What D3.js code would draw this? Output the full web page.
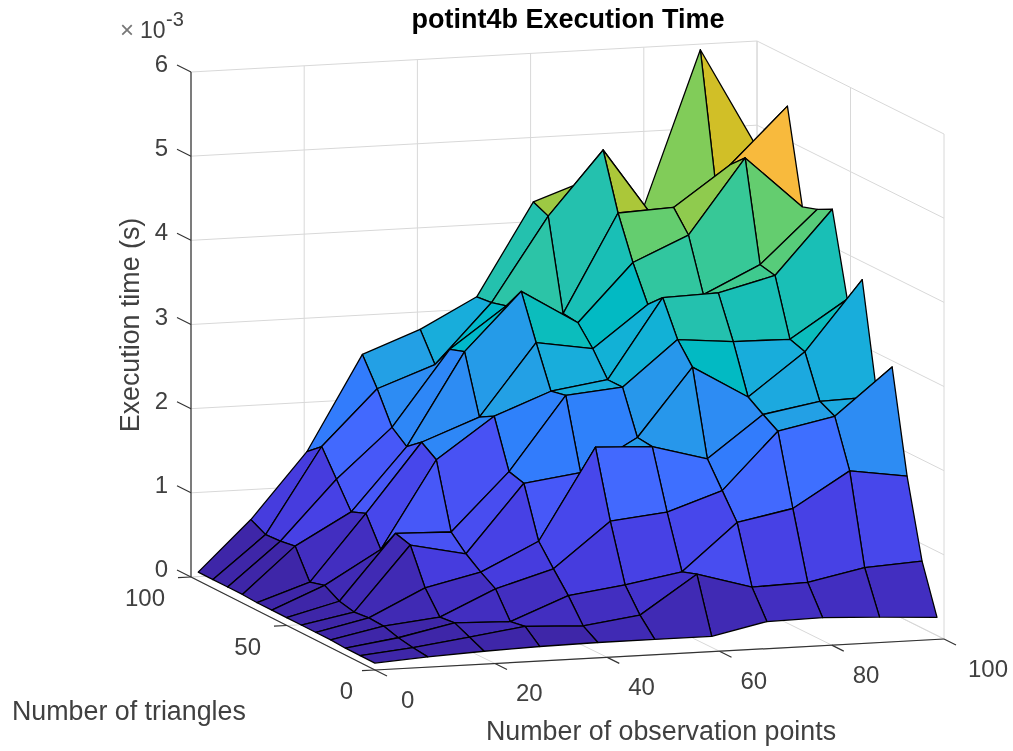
<!DOCTYPE html>
<html>
<head>
<meta charset="utf-8">
<script src="https://cdn.jsdelivr.net/npm/d3@7"></script>
<style>
  html, body { margin: 0; padding: 0; background: #fff; }
  svg { filter: blur(0.4px); }
  text { font-family: "Liberation Sans", Arial, sans-serif; fill: #404040; }
</style>
</head>
<body>
<div id="canvas"></div>
<script>
const xVals = [0.3, 9.6, 19.5, 29.3, 39.5, 49.5, 59.5, 69.2, 79, 89, 99.1];
const yVals = [1, 9, 17, 25, 33, 41, 49, 57, 65, 73, 81, 89, 97];

// execution time in ms, one row per yVals entry
const timeRows = [
  [0.07, 0.11, 0.14, 0.16, 0.17, 0.17, 0.17, 0.31, 0.32, 0.29, 0.25],
  [0.07, 0.13, 0.22, 0.31, 0.28, 0.37, 0.82, 0.63, 0.65, 0.79, 0.83],
  [0.07, 0.16, 0.30, 0.28, 0.55, 0.64, 0.76, 1.31, 1.44, 1.85, 1.75],
  [0.08, 0.21, 0.28, 0.58, 0.78, 1.31, 1.38, 1.60, 2.27, 2.41, 2.96],
  [0.08, 0.22, 0.54, 0.69, 1.02, 2.10, 2.07, 1.89, 2.38, 2.50, 2.52],
  [0.08, 0.20, 0.96, 0.82, 1.62, 1.71, 2.09, 2.89, 2.50, 3.00, 3.82],
  [0.08, 0.24, 1.01, 0.99, 1.67, 2.54, 2.60, 3.13, 3.07, 3.06, 3.50],
  [0.08, 0.34, 0.73, 1.76, 2.24, 2.50, 2.60, 3.54, 3.56, 3.73, 4.48],
  [0.08, 0.29, 1.07, 1.88, 2.14, 2.99, 2.88, 3.37, 3.45, 3.77, 4.39],
  [0.09, 0.63, 1.00, 1.74, 2.83, 3.51, 3.10, 3.78, 4.07, 4.95, 4.33],
  [0.09, 0.60, 1.30, 1.88, 2.77, 3.25, 3.12, 4.28, 4.31, 4.78, 5.44],
  [0.09, 0.59, 1.60, 2.25, 2.50, 3.20, 4.19, 4.94, 4.02, 4.50, 4.54],
  [0.09, 0.68, 1.45, 2.57, 2.83, 3.18, 4.27, 4.50, 4.14, 5.97, 4.76]
];

const xTicks = [0, 20, 40, 60, 80, 100];
const yTicks = [0, 50, 100];
const zTicks = [0, 1, 2, 3, 4, 5, 6];

const parula = [
  [0.2422,0.1504,0.6603],[0.2504,0.1650,0.7076],[0.2578,0.1818,0.7511],[0.2647,0.1978,0.7952],
  [0.2706,0.2147,0.8364],[0.2751,0.2342,0.8710],[0.2783,0.2559,0.8991],[0.2803,0.2782,0.9221],
  [0.2813,0.3006,0.9414],[0.2810,0.3228,0.9579],[0.2795,0.3447,0.9717],[0.2760,0.3667,0.9829],
  [0.2699,0.3892,0.9906],[0.2602,0.4123,0.9952],[0.2440,0.4358,0.9988],[0.2206,0.4603,0.9973],
  [0.1963,0.4847,0.9892],[0.1834,0.5074,0.9798],[0.1786,0.5289,0.9682],[0.1764,0.5499,0.9520],
  [0.1687,0.5703,0.9359],[0.1540,0.5902,0.9218],[0.1460,0.6091,0.9079],[0.1380,0.6276,0.8973],
  [0.1248,0.6459,0.8883],[0.1113,0.6635,0.8763],[0.0952,0.6798,0.8598],[0.0689,0.6948,0.8394],
  [0.0297,0.7082,0.8163],[0.0036,0.7203,0.7917],[0.0067,0.7312,0.7660],[0.0433,0.7411,0.7394],
  [0.0964,0.7500,0.7120],[0.1408,0.7584,0.6842],[0.1717,0.7670,0.6554],[0.1938,0.7758,0.6251],
  [0.2161,0.7843,0.5923],[0.2470,0.7918,0.5567],[0.2906,0.7973,0.5188],[0.3406,0.8008,0.4789],
  [0.3909,0.8029,0.4354],[0.4456,0.8024,0.3909],[0.5044,0.7993,0.3480],[0.5616,0.7942,0.3045],
  [0.6174,0.7876,0.2612],[0.6720,0.7793,0.2227],[0.7242,0.7698,0.1910],[0.7738,0.7598,0.1646],
  [0.8203,0.7498,0.1535],[0.8634,0.7406,0.1596],[0.9035,0.7330,0.1774],[0.9393,0.7288,0.2100],
  [0.9728,0.7298,0.2394],[0.9956,0.7434,0.2371],[0.9970,0.7659,0.2199],[0.9952,0.7893,0.2028],
  [0.9892,0.8136,0.1885],[0.9786,0.8386,0.1766],[0.9676,0.8639,0.1643],[0.9610,0.8890,0.1537],
  [0.9597,0.9135,0.1423],[0.9628,0.9373,0.1265],[0.9691,0.9606,0.1064],[0.9769,0.9839,0.0805]
].map((c) => d3.rgb(c[0] * 255, c[1] * 255, c[2] * 255).formatRgb());

const width = 1013;
const height = 751;

const svg = d3.select("#canvas").append("svg")
  .attr("width", width)
  .attr("height", height)
  .style("display", "block");

const xScale = d3.scaleLinear().domain([0, 100]).range([0, 1]);
const yScale = d3.scaleLinear().domain([0, 100]).range([0, 1]);
const zScale = d3.scaleLinear().domain([0, 6]).range([0, 505]);

// floor corners of the 3d box on the page
const front = [375, 670], right = [944, 639], left = [191, 577], back = [757, 546];

const project = (x, y, z) => {
  const u = xScale(x), v = yScale(y);
  const px = (1 - u) * (1 - v) * front[0] + u * (1 - v) * right[0] + (1 - u) * v * left[0] + u * v * back[0];
  const py = (1 - u) * (1 - v) * front[1] + u * (1 - v) * right[1] + (1 - u) * v * left[1] + u * v * back[1];
  return [px, py - zScale(z)];
};

// the two front rulers are not quite even in the original, first tick sits closer to the corner
const xRuler = d3.scaleLinear().domain([0, 20, 100]).range([375, 495, 944]);
const yRuler = d3.scaleLinear().domain([0, 50, 100]).range([375, 287, 191]);
const xRulerY = d3.scaleLinear().domain([front[0], right[0]]).range([front[1], right[1]]);
const yRulerY = d3.scaleLinear().domain([front[0], left[0]]).range([front[1], left[1]]);
const xTickPos = (d) => [xRuler(d), xRulerY(xRuler(d))];
const yTickPos = (d) => [yRuler(d), yRulerY(yRuler(d))];

const allTimes = timeRows.flat();
const colorScale = d3.scaleQuantize().domain(d3.extent(allTimes)).range(parula);

const line3d = d3.line();

// grid on the two walls and the floor
const gridSegs = [];
zTicks.forEach((z) => {
  gridSegs.push([project(0, 100, z), project(100, 100, z)]);
  gridSegs.push([project(100, 100, z), project(100, 0, z)]);
});
xTicks.forEach((x) => {
  gridSegs.push([project(x, 100, 0), project(x, 100, 6)]);
  gridSegs.push([xTickPos(x), project(x, 100, 0)]);
});
yTicks.forEach((y) => {
  gridSegs.push([project(100, y, 0), project(100, y, 6)]);
  gridSegs.push([yTickPos(y), project(100, y, 0)]);
});

svg.append("g").selectAll("path")
  .data(gridSegs)
  .enter()
  .append("path")
  .attr("d", (d) => line3d(d))
  .attr("fill", "none")
  .attr("stroke", "#d8d8d8")
  .attr("stroke-width", 1);

// surface faces, far ones first; colour comes from the lowest index corner like surf
const faces = [];
d3.range(yVals.length - 2, -1, -1).forEach((j) => {
  d3.range(xVals.length - 2, -1, -1).forEach((i) => {
    faces.push({ i, j });
  });
});

svg.append("g").selectAll("path")
  .data(faces)
  .enter()
  .append("path")
  .attr("d", ({ i, j }) => {
    const pts = [[i, j], [i + 1, j], [i + 1, j + 1], [i, j + 1]]
      .map(([a, b]) => project(xVals[a], yVals[b], timeRows[b][a]));
    return line3d(pts) + "Z";
  })
  .attr("fill", ({ i, j }) => colorScale(timeRows[j][i]))
  .attr("stroke", "#000")
  .attr("stroke-width", 1.3)
  .attr("stroke-linejoin", "round");

// axis lines and ticks
const axisColor = "#333";
const axes = svg.append("g").attr("fill", "none").attr("stroke", axisColor).attr("stroke-width", 1.2);
axes.append("path").attr("d", line3d([project(0, 0, 0), project(100, 0, 0)]));
axes.append("path").attr("d", line3d([project(0, 0, 0), project(0, 100, 0)]));
axes.append("path").attr("d", line3d([project(0, 100, 0), project(0, 100, 6)]));

const addTicks = (ticks, at, dx, dy) => {
  axes.append("g").selectAll("path")
    .data(ticks)
    .enter()
    .append("path")
    .attr("d", (d) => {
      const p = at(d);
      return line3d([p, [p[0] + dx, p[1] + dy]]);
    });
};
addTicks(xTicks, xTickPos, 12, 6);
addTicks(yTicks, yTickPos, -13, 0.7);
addTicks(zTicks, (d) => project(0, 100, d), -14, -7);

const labels = svg.append("g").attr("font-size", 24);

labels.append("g").selectAll("text")
  .data(xTicks)
  .enter()
  .append("text")
  .attr("x", (d) => xTickPos(d)[0] + (d === 0 ? 26 : d === 100 ? 24 : 21))
  .attr("y", (d) => xTickPos(d)[1] + 38)
  .text((d) => d);

labels.append("g").selectAll("text")
  .data(yTicks)
  .enter()
  .append("text")
  .attr("text-anchor", "end")
  .attr("x", (d) => yTickPos(d)[0] + (d === 0 ? -22 : -26))
  .attr("y", (d) => yTickPos(d)[1] + 29)
  .text((d) => d);

labels.append("g").selectAll("text")
  .data(zTicks)
  .enter()
  .append("text")
  .attr("text-anchor", "end")
  .attr("x", 168)
  .attr("y", (d) => project(0, 100, d)[1])
  .text((d) => d);

svg.append("text")
  .attr("x", 568)
  .attr("y", 28)
  .attr("text-anchor", "middle")
  .attr("font-size", 27)
  .attr("font-weight", "bold")
  .style("fill", "#000")
  .text("potint4b Execution Time");

const expo = svg.append("g");
expo.append("text").attr("x", 120).attr("y", 38).attr("font-size", 24).style("fill", "#777").text("×");
expo.append("text").attr("x", 140).attr("y", 38).attr("font-size", 23).text("10");
expo.append("text").attr("x", 166).attr("y", 26).attr("font-size", 20).text("-3");

svg.append("text")
  .attr("transform", "translate(139,325) rotate(-90)")
  .attr("text-anchor", "middle")
  .attr("font-size", 26.8)
  .text("Execution time (s)");

svg.append("text")
  .attr("x", 12)
  .attr("y", 720)
  .attr("font-size", 26.8)
  .text("Number of triangles");

svg.append("text")
  .attr("x", 486)
  .attr("y", 740)
  .attr("font-size", 26.8)
  .text("Number of observation points");
</script>
</body>
</html>
